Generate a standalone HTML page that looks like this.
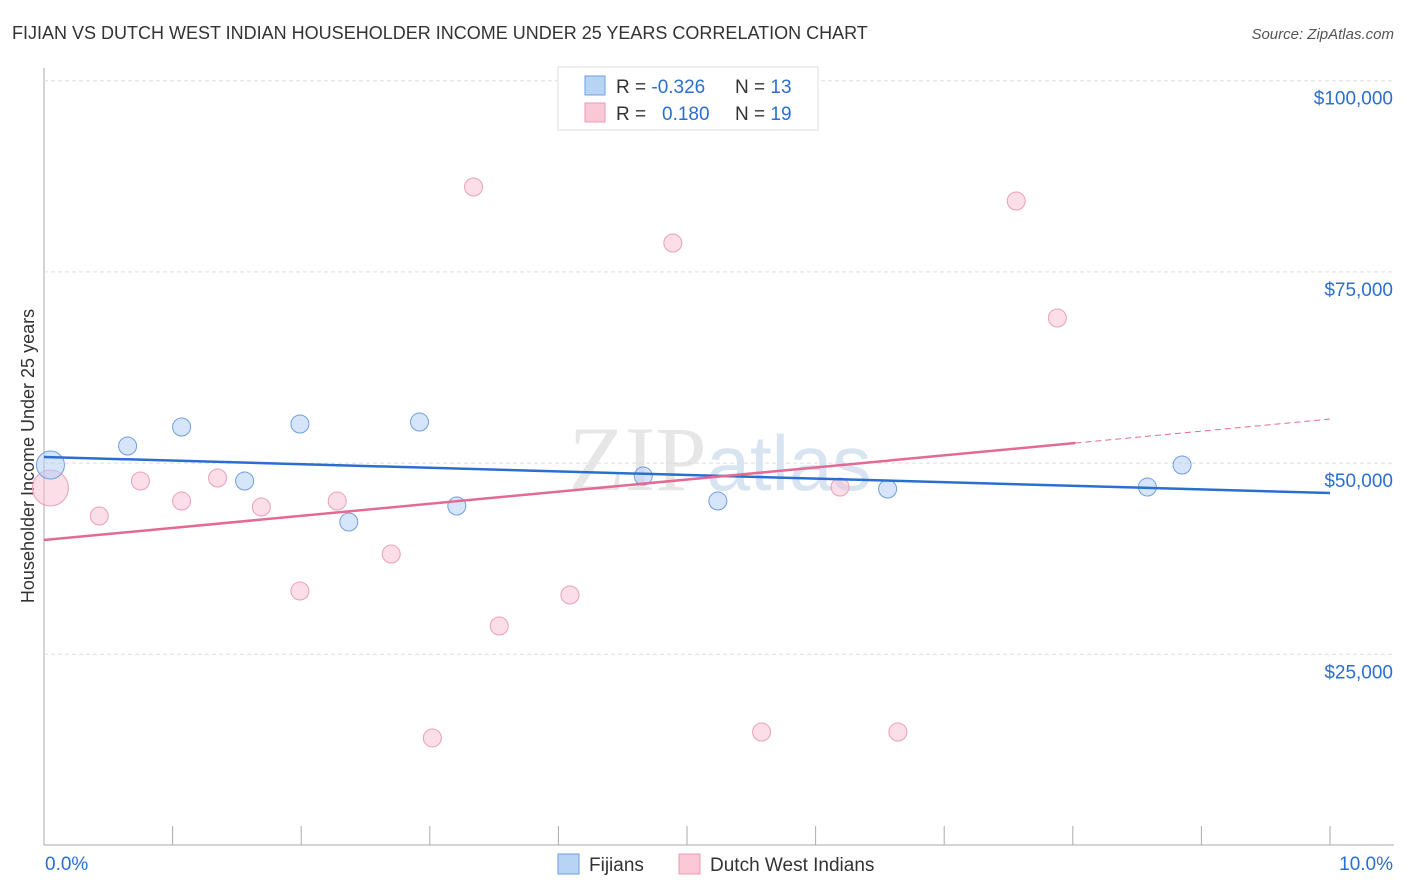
<!DOCTYPE html>
<html><head><meta charset="utf-8"><style>
body{margin:0;background:#fff;font-family:"Liberation Sans",sans-serif}
</style></head><body>
<svg id="c" width="1406" height="892" style="position:absolute;left:0;top:0">
<text x="12" y="39" font-size="18" fill="#333">FIJIAN VS DUTCH WEST INDIAN HOUSEHOLDER INCOME UNDER 25 YEARS CORRELATION CHART</text>
<text x="1394" y="39" font-size="15" fill="#555" text-anchor="end" font-style="italic">Source: ZipAtlas.com</text>
<text x="720" y="490" font-size="92" fill="#e6e6e6" text-anchor="middle" font-family="Liberation Serif">ZIP<tspan fill="#d8e4f2" font-family="Liberation Sans" font-size="78">atlas</tspan></text>
<text transform="translate(34,456) rotate(-90)" font-size="18" fill="#333" text-anchor="middle">Householder Income Under 25 years</text>
<g id="grid"></g><g id="marks"></g>
<g>
<rect x="558" y="67" width="260" height="63" fill="#fff" stroke="#ddd"/>
<rect x="585" y="76" width="20" height="19" fill="#b8d4f5" stroke="#6a9fe0"/>
<rect x="585" y="103" width="20" height="19" fill="#fac8d6" stroke="#ec9ab2"/>
<text x="616" y="93" font-size="19" fill="#333">R = <tspan fill="#2a6fd0">-0.326</tspan>  <tspan x="735">N = </tspan><tspan fill="#2a6fd0">13</tspan></text>
<text x="616" y="120" font-size="19" fill="#333">R = <tspan x="662" fill="#2a6fd0">0.180</tspan><tspan x="735">N = </tspan><tspan fill="#2a6fd0">19</tspan></text>
</g>
<g>
<rect x="558" y="854" width="21" height="20" fill="#b8d4f5" stroke="#6a9fe0"/>
<text x="589" y="871" font-size="19" fill="#333">Fijians</text>
<rect x="679" y="854" width="21" height="20" fill="#fac8d6" stroke="#ec9ab2"/>
<text x="710" y="871" font-size="19" fill="#333">Dutch West Indians</text>
</g>
</svg>
<script>
const yTicks=[25000,50000,75000,100000];
const yTickLabels=["$25,000","$50,000","$75,000","$100,000"];
const fijX=[0.05,0.65,1.07,1.56,1.99,2.37,2.92,3.21,4.66,5.24,6.56,8.58,8.85];
const fijY=[49750,52235,54720,47660,55110,42300,55370,44390,48310,45040,46610,46870,49750];
const fijR=[14,9,9,9,9,9,9,9,9,9,9,9,9];
const dwiX=[0.05,0.43,0.75,1.07,1.35,1.69,1.99,2.28,2.70,3.02,3.34,3.54,4.09,4.89,5.58,6.19,6.64,7.56,7.88];
const dwiY=[46740,43080,47660,45040,48050,44260,33280,45040,38110,14060,86100,28700,32750,78780,14840,46870,14840,84270,68970];
const dwiR=[18,9,9,9,9,9,9,9,9,9,9,9,9,9,9,9,9,9,9];
const fijTrend=[50800,46090];
const dwiTrend=[39940,55760];
const dwiSolidEnd=8.02;
const X=v=>44+v*128.6, Y=v=>845.5-v/25000*191.2;
const NS="http://www.w3.org/2000/svg";
function mk(t,a,p){const e=document.createElementNS(NS,t);for(const k in a)e.setAttribute(k,a[k]);p.appendChild(e);return e;}
const g=document.getElementById('grid'),m=document.getElementById('marks');
let ax=mk('line',{x1:44,y1:68,x2:44,y2:845,stroke:'#aaa'},g);


let bx=mk('line',{x1:44,y1:845,x2:1394,y2:845,stroke:'#aaa'},g);


yTicks.forEach((t,i)=>{
 let l=mk('line',{x1:44,x2:1394,y1:Y(t),y2:Y(t),stroke:'#ddd','stroke-dasharray':'4 3'},g);
 
 
 let tx=mk('text',{x:1393,y:Y(t)+24,'font-size':19,fill:'#2a6fd0','text-anchor':'end'},g);
 tx.textContent=yTickLabels[i];
 
 
});
for(let i=1;i<=10;i++){let l=mk('line',{x1:X(i),x2:X(i),y1:826,y2:845,stroke:'#aaa'},g);
 
 }
let t0=mk('text',{x:45,y:870,'font-size':19,fill:'#2a6fd0'},g);t0.textContent='0.0%';


let t1=mk('text',{x:1393,y:870,'font-size':19,fill:'#2a6fd0','text-anchor':'end'},g);t1.textContent='10.0%';


dwiX.forEach((x,i)=>{let c=mk('circle',{cx:X(x),cy:Y(dwiY[i]),r:dwiR[i],fill:'rgba(248,190,208,0.5)',stroke:'#eaa0b8'},m);
 
 });
fijX.forEach((x,i)=>{let c=mk('circle',{cx:X(x),cy:Y(fijY[i]),r:fijR[i],fill:'rgba(180,208,245,0.55)',stroke:'#6f9fdf'},m);
 
 });
let fl=mk('line',{x1:X(0),y1:Y(fijTrend[0]),x2:X(10),y2:Y(fijTrend[1]),stroke:'#2a6fd0','stroke-width':2.5},m);


const dy=x=>dwiTrend[0]+(dwiTrend[1]-dwiTrend[0])*x/10;
let dl=mk('line',{x1:X(0),y1:Y(dy(0)),x2:X(dwiSolidEnd),y2:Y(dy(dwiSolidEnd)),stroke:'#e46a93','stroke-width':2.5},m);


let dd=mk('line',{x1:X(dwiSolidEnd),y1:Y(dy(dwiSolidEnd)),x2:X(10),y2:Y(dy(10)),stroke:'#e46a93','stroke-width':1,'stroke-dasharray':'6 4'},m);


</script>
</body></html>
